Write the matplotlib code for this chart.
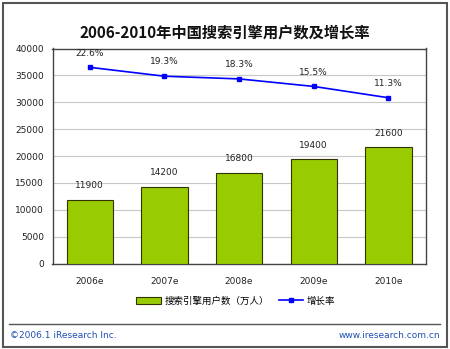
import matplotlib
matplotlib.use('Agg')
import matplotlib.pyplot as plt
from matplotlib.patches import Rectangle, Patch
from matplotlib.lines import Line2D
import numpy as np

years = ['2006e', '2007e', '2008e', '2009e', '2010e']
users = [11900, 14200, 16800, 19400, 21600]
growth = [22.6, 19.3, 18.3, 15.5, 11.3]
growth_labels = ['22.6%', '19.3%', '18.3%', '15.5%', '11.3%']

title = '2006-2010年中国搜索引擎用户数及增长率'
bar_name = '搜索引擎用户数（万人）'
line_name = '增长率'

cjk = ['Noto Sans CJK SC', 'DejaVu Sans']
num_size = 6.5

fig = plt.figure(figsize=(4.5, 3.49), dpi=100)
fig.patch.set_facecolor('white')

ax = fig.add_axes([52.5 / 450, 1 - 263.5 / 349, (425.7 - 52.5) / 450, 215 / 349])
x = np.arange(len(years))

ax.bar(x, users, width=0.62, color='#99cc00', edgecolor='#333300', linewidth=0.8, zorder=3)
for xi, v in zip(x, users):
    ax.annotate(str(v), (xi, v), xytext=(0, 7), textcoords='offset points',
                ha='center', va='bottom', fontsize=num_size, color='#222222')

ax.set_xlim(-0.5, len(years) - 0.5)
ax.set_ylim(0, 40000)
ax.set_yticks(np.arange(0, 40001, 5000))
ax.set_xticks(x)
ax.set_xticklabels(years)
ax.tick_params(axis='both', length=0, labelsize=num_size, colors='#222222')
ax.tick_params(axis='x', pad=10)
ax.tick_params(axis='y', pad=6)
ax.grid(axis='y', color='#c8c8c8', linewidth=0.8, zorder=0)
for s in ax.spines.values():
    s.set_color('#444444')
    s.set_linewidth(1.0)

ax2 = ax.twinx()
ax2.set_ylim(-50.3, 29.6)
ax2.plot(x, growth, color='#0000ff', linewidth=1.2, marker='s', markersize=3.5, zorder=4)
for xi, v, lab in zip(x, growth, growth_labels):
    ax2.annotate(lab, (xi, v), xytext=(0, 7), textcoords='offset points',
                 ha='center', va='bottom', fontsize=num_size, color='#222222')
ax2.axis('off')

fig.text(0.5, 1 - 33 / 349, title, ha='center', va='center', fontsize=11,
         fontweight='bold', family=cjk, color='#111111')

handles = [Patch(facecolor='#99cc00', edgecolor='#333300', linewidth=0.8),
           Line2D([], [], color='#0000ff', linewidth=1.2, marker='s', markersize=3.5)]
fig.legend(handles, [bar_name, line_name], loc='center', bbox_to_anchor=(236 / 450, 1 - 301 / 349),
           ncol=2, frameon=False, prop={'family': cjk, 'size': 6.8},
           handlelength=2.6, handleheight=0.8, columnspacing=1.0, handletextpad=0.4)

# footer
fig.add_artist(Line2D([9 / 450, 440 / 450], [1 - 323.5 / 349] * 2, color='#555555', linewidth=1.0))
fig.text(10 / 450, 1 - 335 / 349, '©2006.1 iResearch Inc.', ha='left', va='center',
         fontsize=6.5, color='#1f4fb4')
fig.text(440 / 450, 1 - 335 / 349, 'www.iresearch.com.cn', ha='right', va='center',
         fontsize=6.5, color='#1f4fb4')

# outer frame
fig.add_artist(Rectangle((3 / 450, 2 / 349), 444 / 450, 344 / 349, transform=fig.transFigure,
                         fill=False, edgecolor='#555555', linewidth=1.5))

fig.savefig('out.png', dpi=100)
